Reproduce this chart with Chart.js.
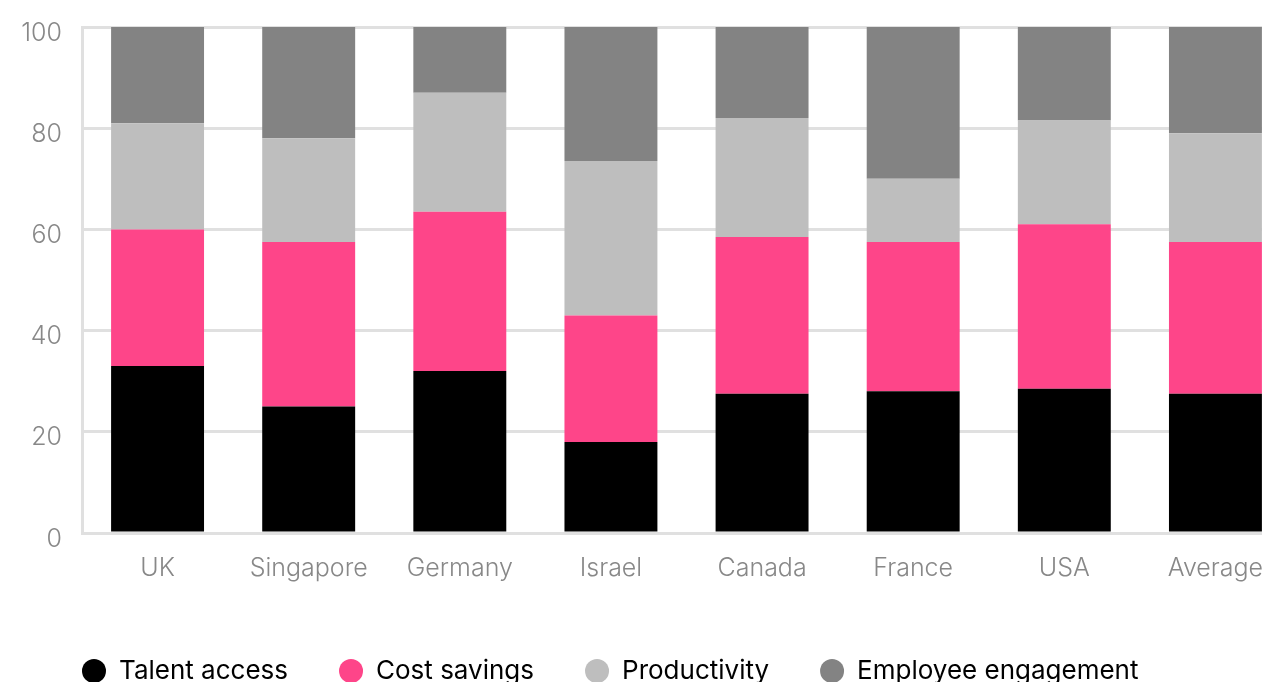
<!DOCTYPE html>
<html>
<head>
<meta charset="utf-8">
<script src="https://cdn.jsdelivr.net/npm/chart.js@4/dist/chart.umd.min.js"></script>
<style>
  html, body { margin: 0; padding: 0; background: #fff; overflow: hidden; }
  /* chart is a bit wider than the frame, right edge gets cut */
  #frame { position: absolute; left: 0; top: 0; width: 1262px; height: 682px; overflow: hidden; }
  #motivesChart { display: block; }
</style>
</head>
<body>
<div id="frame">
  <canvas id="motivesChart" width="1291" height="694"></canvas>
</div>
<script>
// === Data ===
const countries = ["UK", "Singapore", "Germany", "Israel", "Canada", "France", "USA", "Average"];
const talentAccess = [33, 25, 32, 18, 27.5, 28, 28.5, 27.5];
const costSavings = [27, 32.5, 31.5, 25, 31, 29.5, 32.5, 30];
const productivity = [21, 20.5, 23.5, 30.5, 23.5, 12.5, 20.5, 21.5];
const employeeEngagement = [19, 22, 13, 26.5, 18, 30, 18.5, 21];
const yTicks = [0, 20, 40, 60, 80, 100];

const GRID = "#e0e0e0";
const TICK = "#888888";

// legend lines up with the plot's left edge instead of the canvas edge
const legendShift = {
  id: "legendShift",
  afterLayout(chart) {
    chart.legend.left += 31;
  }
};

const ctx = document.getElementById("motivesChart").getContext("2d");
const motivesChart = new Chart(ctx, {
  type: "bar",
  data: {
    labels: countries,
    datasets: [
      { label: "Talent access", data: talentAccess, backgroundColor: "#000000" },
      { label: "Cost savings", data: costSavings, backgroundColor: "#fe4589" },
      { label: "Productivity", data: productivity, backgroundColor: "#bebebe" },
      { label: "Employee engagement", data: employeeEngagement, backgroundColor: "#838383" }
    ]
  },
  plugins: [legendShift],
  options: {
    responsive: false,
    devicePixelRatio: 1,
    animation: false,
    datasets: {
      bar: { categoryPercentage: 0.615, barPercentage: 1, borderWidth: 0 }
    },
    layout: { padding: { top: 27, left: 0, right: 0, bottom: 0 } },
    plugins: {
      tooltip: { enabled: false },
      legend: {
        position: "bottom",
        align: "start",
        labels: {
          usePointStyle: true,
          pointStyle: "circle",
          pointStyleWidth: 24,
          boxHeight: 17,
          padding: 51,
          color: "#000",
          font: { family: "Inter", size: 26, weight: 400 }
        }
      }
    },
    scales: {
      x: {
        stacked: true,
        grid: { display: false },
        border: { display: false },
        ticks: {
          color: TICK,
          padding: 12,
          maxRotation: 0,
          font: { family: "Inter", size: 25, weight: 300 }
        },
        afterFit: scale => { scale.height = 74; }
      },
      y: {
        stacked: true,
        min: 0,
        max: 100,
        afterBuildTicks: scale => { scale.ticks = yTicks.map(v => ({ value: v })); },
        grid: { color: GRID, lineWidth: 3, drawTicks: false },
        border: { display: true, color: GRID, width: 3 },
        ticks: {
          color: TICK,
          padding: 20,
          labelOffset: 6,
          font: { family: "Inter", size: 25, weight: 300 }
        },
        afterFit: scale => {
          scale.width = 82;
          // top label may hang into the layout padding
          scale.paddingTop = 0;
          scale.paddingBottom = 0;
        }
      }
    }
  }
});
</script>
</body>
</html>
